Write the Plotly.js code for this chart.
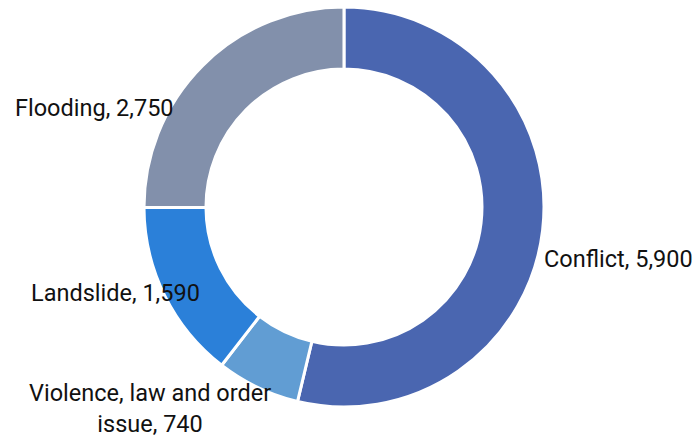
<!DOCTYPE html>
<html>
<head>
<meta charset="utf-8">
<script src="https://cdn.plot.ly/plotly-3.0.1.min.js"></script>
<style>html,body{margin:0;padding:0;background:#fff;}#chart{width:700px;height:441px;}</style>
</head>
<body>
<div id="chart"></div>
<script>
var categories = ["Conflict", "Violence, law and order<br>issue", "Landslide", "Flooding"];
var values = [5900, 740, 1590, 2750];
var colors = ["#4a66b0", "#619dd3", "#2b80d9", "#8290ab"];

var labelsText = categories.map(function (c, i) {
  return c + ", " + values[i].toLocaleString("en-US");
});

var trace = {
  type: "pie",
  labels: categories,
  values: values,
  textinfo: "none",
  hoverinfo: "label+value",
  sort: false,
  direction: "clockwise",
  rotation: 0,
  hole: 0.69,
  marker: { colors: colors, line: { color: "#ffffff", width: 3 } },
  domain: { x: [0.2057, 0.7771], y: [0.077, 0.984] },
  automargin: false
};

// label placement (paper coordinates), layout only
var labelPlacement = [
  { x: 0.8829, y: 0.4127 },
  { x: 0.2143, y: 0.0748 },
  { x: 0.1657, y: 0.3356 },
  { x: 0.1343, y: 0.7551 }
];

var annotations = labelsText.map(function (t, i) {
  return {
    text: t,
    xref: "paper", yref: "paper",
    x: labelPlacement[i].x, y: labelPlacement[i].y,
    xanchor: "center", yanchor: "middle",
    align: "center",
    showarrow: false,
    font: { family: "Roboto, sans-serif", size: 23.5, color: "#111111" }
  };
});

var layout = {
  width: 700,
  height: 441,
  margin: { l: 0, r: 0, t: 0, b: 0 },
  showlegend: false,
  paper_bgcolor: "#ffffff",
  font: { family: "Roboto, sans-serif" },
  annotations: annotations
};

Plotly.newPlot("chart", [trace], layout, { displayModeBar: false, staticPlot: true });
</script>
</body>
</html>
